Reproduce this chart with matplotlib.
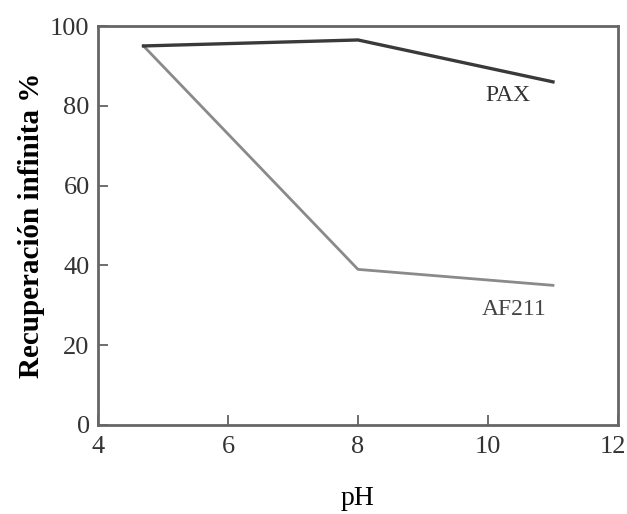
import matplotlib
matplotlib.use('Agg')
import matplotlib.pyplot as plt
import matplotlib.transforms as mtransforms

plt.rcParams['font.family'] = ['Liberation Serif', 'DejaVu Serif']

# Data
ph = [4.7, 8, 11]
pax = [95, 96.5, 86]
af211 = [95, 39, 35]

fig = plt.figure(figsize=(6.27, 5.14), dpi=100)
ax = fig.add_axes([0.1563, 0.1732, 0.8293, 0.7762])

ax.plot(ph, af211, color='#8a8a8a', linewidth=2.0)
ax.plot(ph, pax, color='#3a3a3a', linewidth=2.4)

ax.text(10.3, 85.3, 'PAX', fontsize=17, color='#333333', ha='center', va='top')
ax.text(10.4, 31.5, 'AF211', fontsize=17, color='#444444', ha='center', va='top')

ax.set_xlim(4, 12)
ax.set_ylim(0, 100)
ax.set_xticks([4, 6, 8, 10, 12])
ax.set_yticks([0, 20, 40, 60, 80, 100])
ax.tick_params(direction='in', length=7, width=1.2, color='#555555',
               labelsize=19, labelcolor='#333333')
ax.tick_params(axis='x', pad=8)
ax.tick_params(axis='y', pad=6)

# nudge the last x label so it stays inside the figure
fig.canvas.draw()
last = ax.get_xticklabels()[-1]
last.set_transform(last.get_transform() +
                   mtransforms.ScaledTranslation(-5 / 100, 0, fig.dpi_scale_trans))

for s in ax.spines.values():
    s.set_color('#666666')
    s.set_linewidth(2)

ax.set_xlabel('pH', fontsize=20, labelpad=20)
ax.set_ylabel('Recuperación infinita %', fontsize=21, fontweight='bold', labelpad=4)

fig.savefig('out.png', dpi=100)
